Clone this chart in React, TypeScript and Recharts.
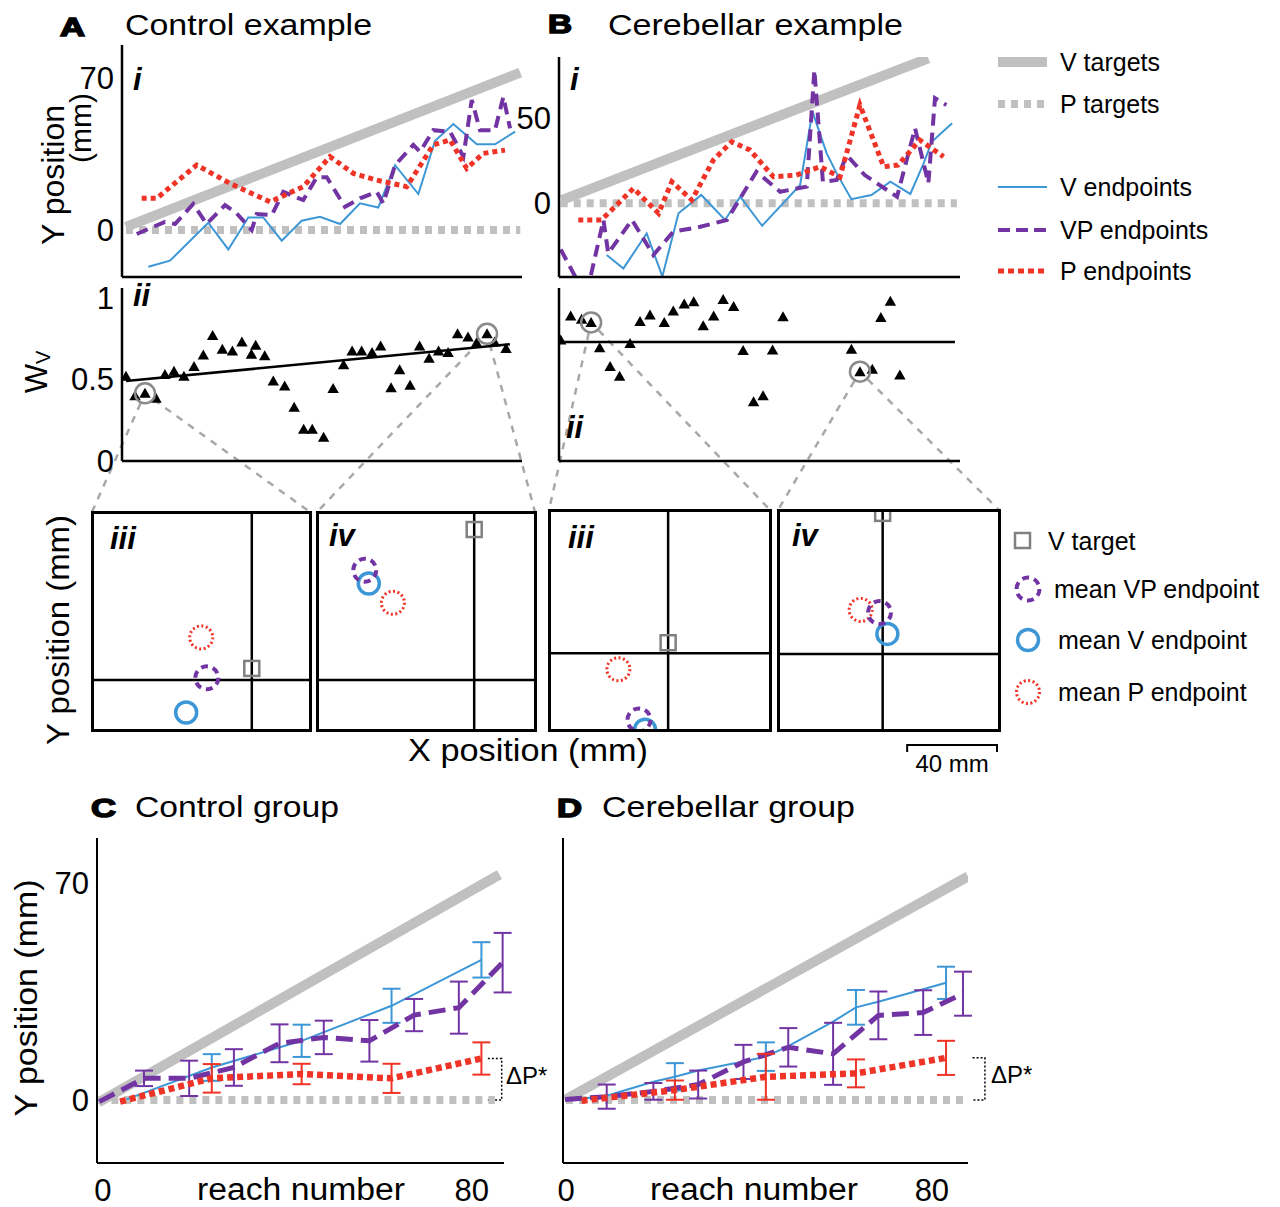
import React from 'react';
import { ComposedChart, Line, Scatter, XAxis, YAxis, ErrorBar, ReferenceLine } from 'recharts';

const FONT = '"Liberation Sans", Arial, Helvetica, sans-serif';
const GRAY = '#c0c0c0';
const BLUE = '#3d97d6';
const PURPLE = '#7334a3';
const RED = '#ef3326';

// ---------- A i: control example, Y endpoint (mm) by reach index
const aTargetX = [0, 41.5];
const aVTargetY = [1.5, 72.5];
const aPTargetY = [0, 0];
const aVX = [2.35, 4.63, 8.66, 10.77, 12.87, 14.45, 16.39, 18.49, 20.42, 22.53, 24.63, 26.56, 28.32, 30.77, 32.53, 34.45, 36.92, 38.84, 40.95];
const aVY = [-16.9, -14.1, 3.4, -8.9, 5.8, 5.8, -4.9, 4.3, 6.1, 2.8, 12.3, 10.4, 29.9, 16.6, 41.1, 48.8, 39.5, 39.5, 45.3];
const aVPX = [1.13, 4.1, 5.16, 7.08, 8.49, 10.42, 11.65, 13.23, 13.76, 15.34, 16.56, 18.66, 20.07, 21.13, 23.05, 24.63, 26.39, 27.08, 28.32, 30.24, 30.95, 32.35, 34.11, 35.51, 36.39, 37.26, 38.84, 39.72, 40.42];
const aVPY = [-1.8, 3.8, 2.8, 12, 2.8, 11.5, 7.7, 0, 7.4, 6.9, 17.6, 13.8, 24.3, 24.3, 10.7, 14.6, 17.6, 12.3, 29.9, 39.2, 36, 46, 45.3, 33.8, 59.9, 46, 46, 61.4, 46.8];
const aPX = [1.65, 3.23, 7.44, 10.95, 15.16, 18.66, 21.47, 23.93, 26.39, 29.55, 32.35, 34.11, 35.86, 37.61, 39.89];
const aPY = [14.6, 14.6, 29.9, 21.5, 13, 20, 33.8, 26.1, 23, 20, 39.2, 41.5, 28.4, 35.3, 36.8];

// ---------- A ii: visual weight per VP reach
const aTriX = [0, 0.95, 2.0, 3.16, 4.1, 5.05, 6.1, 7.16, 8.14, 9.12, 10.14, 11.2, 12.2, 13.2, 13.65, 14.6, 15.5, 16.7, 17.7, 18.7, 19.6, 20.8, 21.8, 22.9, 23.8, 24.8, 25.9, 26.8, 27.9, 28.8, 29.9, 30.9, 31.9, 32.9, 33.9, 34.9, 36, 36.9, 38, 38.8, 40];
const aTriW = [0.52, 0.4, 0.415, 0.385, 0.53, 0.55, 0.52, 0.58, 0.65, 0.77, 0.685, 0.675, 0.73, 0.655, 0.71, 0.645, 0.49, 0.46, 0.33, 0.195, 0.195, 0.145, 0.445, 0.59, 0.675, 0.675, 0.665, 0.705, 0.45, 0.56, 0.465, 0.705, 0.63, 0.675, 0.665, 0.78, 0.76, 0.725, 0.78, 0.73, 0.69];
const aFitX = [0, 40.4];
const aFitW = [0.49, 0.716];
const aRingIdx = [2, 38];

// ---------- B i: cerebellar example
const bVTargetX = [0.1, 38.7];
const bVTargetY = [1.9, 85.3];
const bPTargetX = [0, 41.7];
const bPTargetY = [0, 0];
const bVX = [4.84, 6.6, 9.05, 10.7, 12.4, 14.8, 17.3, 18.9, 21.2, 25.2, 26.5, 28, 29.05, 30.6, 32.7, 34.7, 36.8, 38.2, 39.05, 41.2];
const bVY = [-30.4, -38.3, -17.7, -43, -5.9, 4.9, -9.8, 3.9, -13.2, 10.8, 53.9, 29.4, 17.6, 2.4, 4.9, 12.7, 5.5, 23.5, 36.2, 47.1];
const bVPX = [0, 2.66, 4.5, 5.0, 7.5, 9.75, 11.85, 14.7, 17.5, 20.6, 23.1, 25.9, 26.7, 27.6, 29.05, 30.1, 32, 35.4, 37.3, 38.7, 39.4, 40.6];
const bVPY = [-27.1, -55, -9.8, -29.4, -9.8, -30.4, -16.7, -13.8, -9.8, 18.6, 6.8, 9.8, 78.4, 12.7, 13.7, 28.4, 16.6, 3.9, 44.1, 11.8, 61.8, 57.8];
const bPX = [1.85, 4.3, 7.65, 10.3, 11.7, 13.8, 16.07, 18, 19.9, 22.4, 24.8, 27.3, 29.4, 31.5, 34, 35.5, 37.8, 40.3];
const bPY = [-9.8, -9.8, 8.8, -5.9, 12.7, 1.9, 25.5, 36.2, 31.4, 15.6, 16.6, 21.5, 15.6, 57.8, 21.5, 22.5, 37.2, 27.4];

// ---------- B ii
const bTriX = [0, 1.05, 2.2, 3.2, 4.1, 5.2, 6.2, 7.3, 8.35, 9.4, 10.9, 11.85, 13, 14, 15, 16.1, 17.1, 18.2, 19.2, 20.3, 21.3, 22.3, 23.4, 30.6, 31.5, 32.8, 33.7, 34.7, 35.7];
const bTriW = [0.742, 0.89, 0.87, 0.85, 0.695, 0.58, 0.52, 0.72, 0.855, 0.895, 0.85, 0.92, 0.963, 0.977, 0.83, 0.89, 0.99, 0.947, 0.677, 0.364, 0.4, 0.68, 0.885, 0.685, 0.548, 0.563, 0.88, 0.98, 0.527];
const bFitX = [0, 41.5];
const bFitW = [0.73, 0.73];
const bRingIdx = [3, 24];

// ---------- iii / iv insets (A iii, A iv, B iii, B iv): X relative to target, Y in mm
const insetTargetX = [0, 0, 0, 0];
const insetTargetY = [5.2, 67, 4.7, 62.5];
const insetVPX = [-20, -48.6, -13, -1.4];
const insetVPY = [1, 48.9, -29.6, 18.4];
const insetVX = [-29.2, -46.8, -10.3, 2.1];
const insetVY = [-14.4, 43, -34, 8.9];
const insetPX = [-22.5, -36.1, -22.2, -9.8];
const insetPY = [19, 34.4, -7.1, 19.6];

// ---------- C: control group means
const cVTargetX = [-1, 86];
const cVTargetY = [-0.8, 72.7];
const cPTargetX = [-1, 85];
const cPTargetY = [0, 0];
const cVX = [5.1, 23.6, 43.1, 62.6, 82.1];
const cVY = [0.2, 10.5, 19.1, 30.4, 45.2];
const cVE = [null, 4.3, 5.2, 5.5, 5.7];
const cVPX = [-0.8, 8.9, 18.7, 28.4, 38.3, 47.9, 57.8, 67.5, 77.2, 86.7];
const cVPY = [-0.5, 7.0, 7.0, 10.5, 18.3, 20.2, 19.1, 27.4, 29.8, 44.3];
const cVPE = [null, 2.5, 5.7, 5.9, 6.1, 5.4, 6.7, 5.2, 8.4, 9.6];
const cPX = [3.7, 23.6, 43.1, 62.6, 82.1];
const cPY = [-0.5, 7.0, 8.4, 7.0, 13.4];
const cPE = [null, 4.6, 3.3, 4.7, 5.2];

// ---------- D: cerebellar group means
const dVTargetX = [-0.3, 87.9];
const dVTargetY = [0, 72.1];
const dPTargetX = [0, 87.9];
const dPTargetY = [0, 0];
const dVX = [3.4, 8.9, 19.1, 23.8, 28.9, 38.8, 43.7, 48.6, 58.4, 63.4, 68.3, 78.1, 83.1];
const dVY = [0.4, 1.4, 5.9, 7.5, 9.5, 12.4, 14, 17.4, 25.3, 29.9, 31.7, 35.7, 37.8];
const dVE = [null, null, null, 4.4, null, null, 4.6, null, null, 5.6, null, null, 5.2];
const dVPX = [-0.2, 8.9, 19.1, 28.9, 38.8, 48.6, 58.4, 68.3, 78.1, 86.8];
const dVPY = [0.2, 1.1, 2.8, 5.0, 12.3, 17.0, 14.9, 27.3, 28.2, 34.3];
const dVPE = [null, 3.9, 2.7, 4.5, 5.5, 6.2, 10, 7.7, 7.2, 7.1];
const dPX = [3.4, 23.8, 43.7, 63.4, 83.1];
const dPY = [-0.2, 3.2, 7.5, 8.6, 13.6];
const dPE = [null, 3.1, 7.4, 4.5, 5.5];

const zip = (xs: number[], ys: number[], es?: (number | null)[]) =>
  xs.map((x, k) => ({ x, y: ys[k], e: es ? es[k] : null }));

type Frame = { left: number; top: number; width: number; height: number; xd: [number, number]; yd: [number, number] };

// page placement of each plot area
const FA1: Frame = { left: 122, top: 45, width: 400, height: 232, xd: [-0.42, 41.68], yd: [-21.6, 85.2] };
const FA2: Frame = { left: 122, top: 288, width: 400, height: 173, xd: [-0.42, 41.68], yd: [0, 1.061] };
const FB1: Frame = { left: 559, top: 57, width: 401, height: 220, xd: [-0.18, 42.03], yd: [-43.35, 86.06] };
const FB2: Frame = { left: 559, top: 288, width: 401, height: 173, xd: [-0.18, 42.03], yd: [0, 1.061] };
const FC: Frame = { left: 97, top: 838, width: 407, height: 325, xd: [-1.3, 87], yd: [-20.3, 84.5] };
const FD: Frame = { left: 563, top: 838, width: 405, height: 325, xd: [-0.66, 87.9], yd: [-20.3, 84.5] };
const INSETS: Frame[] = [
  { left: 92, top: 512, width: 218, height: 218, xd: [-71.1, 25.9], yd: [-22.2, 74.8] },
  { left: 317, top: 512, width: 218, height: 218, xd: [-69.8, 27], yd: [-22.2, 74.8] },
  { left: 549, top: 510, width: 221, height: 220, xd: [-53.2, 45.5], yd: [-34.1, 63.7] },
  { left: 778, top: 510, width: 221, height: 220, xd: [-46.6, 51.8], yd: [-33.8, 64] },
];

const sx = (f: Frame, v: number) => f.left + ((v - f.xd[0]) / (f.xd[1] - f.xd[0])) * f.width;
const sy = (f: Frame, v: number) => f.top + ((f.yd[1] - v) / (f.yd[1] - f.yd[0])) * f.height;

const M = 22;
const tickFont = { fontSize: 31, fill: '#000', fontFamily: FONT };

function Plot({ f, yw = 1, xh = 1, yTicks, xTicks, axisWidth = 2.5, children }: any) {
  const axisLine = { stroke: '#000', strokeWidth: axisWidth };
  return (
    <div style={{ position: 'absolute', left: f.left - yw - M, top: f.top - M }}>
      <ComposedChart
        width={f.width + yw + 2 * M}
        height={f.height + xh + 2 * M}
        margin={{ top: M, right: M, bottom: M, left: M }}
      >
        <XAxis
          type="number"
          dataKey="x"
          domain={f.xd}
          allowDataOverflow
          height={xh}
          ticks={xTicks}
          tick={xTicks ? tickFont : false}
          tickLine={false}
          tickMargin={10}
          interval={0}
          axisLine={axisLine}
        />
        <YAxis
          type="number"
          dataKey="y"
          domain={f.yd}
          allowDataOverflow
          width={yw}
          ticks={yTicks}
          tick={yTicks ? tickFont : false}
          tickLine={false}
          interval={0}
          axisLine={axisLine}
        />
        {children}
      </ComposedChart>
    </div>
  );
}

const Tri = (p: any) => (
  <polygon
    points={`${p.cx},${p.cy - 5.5} ${p.cx - 5.7},${p.cy + 4.5} ${p.cx + 5.7},${p.cy + 4.5}`}
    fill="#000"
  />
);
const Ring = (p: any) => <circle cx={p.cx} cy={p.cy} r={10} fill="none" stroke="#8a8a8a" strokeWidth={2.5} />;
const SquareMark = (p: any) => (
  <rect x={p.cx - 7.5} y={p.cy - 7.5} width={15} height={15} fill="none" stroke="#808080" strokeWidth={2.5} />
);
const VPMark = (p: any) => (
  <circle cx={p.cx} cy={p.cy} r={11.5} fill="none" stroke={PURPLE} strokeWidth={4} strokeDasharray="7 5" />
);
const VMark = (p: any) => <circle cx={p.cx} cy={p.cy} r={10.5} fill="none" stroke={BLUE} strokeWidth={3.5} />;
const PMark = (p: any) => (
  <circle cx={p.cx} cy={p.cy} r={11.5} fill="none" stroke={RED} strokeWidth={3} strokeDasharray="2 2.5" />
);

function Inset({ k }: { k: number }) {
  const f = INSETS[k];
  return (
    <>
      <div style={{ position: 'absolute', left: f.left, top: f.top }}>
        <ComposedChart width={f.width} height={f.height} margin={{ top: 0, right: 0, bottom: 0, left: 0 }}>
          <XAxis type="number" dataKey="x" domain={f.xd} allowDataOverflow hide />
          <YAxis type="number" dataKey="y" domain={f.yd} allowDataOverflow hide />
          <ReferenceLine x={0} stroke="#000" strokeWidth={2.5} />
          <ReferenceLine y={0} stroke="#000" strokeWidth={2.5} />
          <Scatter data={[{ x: insetTargetX[k], y: insetTargetY[k] }]} shape={SquareMark} isAnimationActive={false} />
          <Scatter data={[{ x: insetPX[k], y: insetPY[k] }]} shape={PMark} isAnimationActive={false} />
          <Scatter data={[{ x: insetVX[k], y: insetVY[k] }]} shape={VMark} isAnimationActive={false} />
          <Scatter data={[{ x: insetVPX[k], y: insetVPY[k] }]} shape={VPMark} isAnimationActive={false} />
        </ComposedChart>
      </div>
      <div
        style={{
          position: 'absolute',
          left: f.left - 1.5,
          top: f.top - 1.5,
          width: f.width + 3,
          height: f.height + 3,
          border: '3px solid #000',
          boxSizing: 'border-box',
        }}
      />
    </>
  );
}

function Overlay() {
  const rings = [
    { f: FA2, x: aTriX[aRingIdx[0]], y: aTriW[aRingIdx[0]], to: INSETS[0] },
    { f: FA2, x: aTriX[aRingIdx[1]], y: aTriW[aRingIdx[1]], to: INSETS[1] },
    { f: FB2, x: bTriX[bRingIdx[0]], y: bTriW[bRingIdx[0]], to: INSETS[2] },
    { f: FB2, x: bTriX[bRingIdx[1]], y: bTriW[bRingIdx[1]], to: INSETS[3] },
  ];
  const connectors: any[] = [];
  rings.forEach((r, n) => {
    const cx = sx(r.f, r.x);
    const cy = sy(r.f, r.y);
    [r.to.left, r.to.left + r.to.width].forEach((tx, m) => {
      const ty = r.to.top;
      const len = Math.hypot(tx - cx, ty - cy);
      const x0 = cx + ((tx - cx) / len) * 11;
      const y0 = cy + ((ty - cy) / len) * 11;
      connectors.push(
        <line key={`${n}-${m}`} x1={x0} y1={y0} x2={tx} y2={ty} stroke="#a8a8a8" strokeWidth={2.5} strokeDasharray="7 7" />
      );
    });
  });

  const bracket = (f: Frame, x1: number, x2: number, top: number) => (
    <polyline
      points={`${sx(f, x1)},${sy(f, top)} ${sx(f, x2)},${sy(f, top)} ${sx(f, x2)},${sy(f, 0)} ${sx(f, x1)},${sy(f, 0)}`}
      fill="none"
      stroke="#000"
      strokeWidth={1.5}
      strokeDasharray="2 2"
    />
  );

  const sb = INSETS[3];
  const mmPx = sb.width / (sb.xd[1] - sb.xd[0]);
  const sbRight = sb.left + sb.width - 2;
  const sbLeft = sbRight - 40 * mmPx;

  const legend1 = [
    { t: 'V targets', y: 62, c: GRAY, w: 10, d: undefined },
    { t: 'P targets', y: 104, c: GRAY, w: 8, d: '7 6' },
    { t: 'V endpoints', y: 187, c: BLUE, w: 2, d: undefined },
    { t: 'VP endpoints', y: 230, c: PURPLE, w: 4, d: '12 6' },
    { t: 'P endpoints', y: 271, c: RED, w: 5, d: '6 4' },
  ];

  const bold = { fontWeight: 700, stroke: '#000', strokeWidth: 1.5 };
  const roman = { fontStyle: 'italic', fontWeight: 700, fontSize: 31 };

  return (
    <svg width={1280} height={1207} style={{ position: 'absolute', left: 0, top: 0 }} fontFamily={FONT} fill="#000">
      {connectors}

      {/* panel letters and titles */}
      <text x={60} y={36} fontSize={26} textLength={25} lengthAdjust="spacingAndGlyphs" {...bold}>A</text>
      <text x={125} y={35} fontSize={29} textLength={247} lengthAdjust="spacingAndGlyphs">Control example</text>
      <text x={548} y={33} fontSize={26} textLength={24} lengthAdjust="spacingAndGlyphs" {...bold}>B</text>
      <text x={608} y={35} fontSize={29} textLength={295} lengthAdjust="spacingAndGlyphs">Cerebellar example</text>
      <text x={91} y={817} fontSize={26} textLength={25} lengthAdjust="spacingAndGlyphs" {...bold}>C</text>
      <text x={135} y={817} fontSize={29} textLength={204} lengthAdjust="spacingAndGlyphs">Control group</text>
      <text x={557} y={817} fontSize={26} textLength={25} lengthAdjust="spacingAndGlyphs" {...bold}>D</text>
      <text x={602} y={817} fontSize={29} textLength={253} lengthAdjust="spacingAndGlyphs">Cerebellar group</text>

      {/* sub-panel numerals */}
      <text x={133} y={90} {...roman}>i</text>
      <text x={570} y={90} {...roman}>i</text>
      <text x={133} y={306} {...roman}>ii</text>
      <text x={566} y={438} {...roman}>ii</text>
      <text x={110} y={549} {...roman}>iii</text>
      <text x={329} y={546} {...roman}>iv</text>
      <text x={568} y={548} {...roman}>iii</text>
      <text x={792} y={546} {...roman}>iv</text>

      {/* axis titles */}
      <text x={53} y={175} fontSize={32} textAnchor="middle" dominantBaseline="central" transform="rotate(-90 53 175)">Y position</text>
      <text x={80} y={128} fontSize={30} textAnchor="middle" dominantBaseline="central" transform="rotate(-90 80 128)">(mm)</text>
      <text x={36} y={372} fontSize={31} textAnchor="middle" dominantBaseline="central" transform="rotate(-90 36 372)">
        W<tspan fontSize={20} dy={7}>V</tspan>
      </text>
      <text x={58} y={630} fontSize={31} textAnchor="middle" dominantBaseline="central" textLength={230} lengthAdjust="spacingAndGlyphs" transform="rotate(-90 58 630)">Y position (mm)</text>
      <text x={528} y={761} fontSize={31} textAnchor="middle" textLength={240} lengthAdjust="spacingAndGlyphs">X position (mm)</text>
      <text x={26} y={998} fontSize={31} textAnchor="middle" dominantBaseline="central" textLength={237} lengthAdjust="spacingAndGlyphs" transform="rotate(-90 26 998)">Y position (mm)</text>
      <text x={301} y={1200} fontSize={31} textAnchor="middle" textLength={208} lengthAdjust="spacingAndGlyphs">reach number</text>
      <text x={754} y={1200} fontSize={31} textAnchor="middle" textLength={208} lengthAdjust="spacingAndGlyphs">reach number</text>

      {/* ΔP brackets */}
      {bracket(FC, 83.5, 86.5, cPY[cPY.length - 1])}
      {bracket(FD, 88.9, 91.6, dPY[dPY.length - 1])}
      <text x={506} y={1084} fontSize={24}>ΔP*</text>
      <text x={991} y={1083} fontSize={24}>ΔP*</text>

      {/* 40 mm scale bar */}
      <polyline points={`${sbLeft},752 ${sbLeft},745 ${sbRight},745 ${sbRight},752`} fill="none" stroke="#000" strokeWidth={2} />
      <text x={(sbLeft + sbRight) / 2} y={772} fontSize={24} textAnchor="middle">40 mm</text>

      {/* legend: series */}
      {legend1.map((l) => (
        <g key={l.t}>
          <line x1={998} x2={1047} y1={l.y} y2={l.y} stroke={l.c} strokeWidth={l.w} strokeDasharray={l.d} />
          <text x={1060} y={l.y + 9} fontSize={25}>{l.t}</text>
        </g>
      ))}

      {/* legend: inset markers */}
      <rect x={1015} y={533} width={15} height={15} fill="none" stroke="#808080" strokeWidth={2.5} />
      <text x={1048} y={550} fontSize={25}>V target</text>
      <circle cx={1028} cy={589} r={11.5} fill="none" stroke={PURPLE} strokeWidth={4} strokeDasharray="7 5" />
      <text x={1054} y={598} fontSize={25}>mean VP endpoint</text>
      <circle cx={1028} cy={640} r={10.5} fill="none" stroke={BLUE} strokeWidth={3.5} />
      <text x={1058} y={649} fontSize={25}>mean V endpoint</text>
      <circle cx={1028} cy={692} r={11.5} fill="none" stroke={RED} strokeWidth={3} strokeDasharray="2 2.5" />
      <text x={1058} y={701} fontSize={25}>mean P endpoint</text>
    </svg>
  );
}

const lineProps = { type: 'linear' as const, dataKey: 'y', dot: false, activeDot: false, isAnimationActive: false };
const PT = { stroke: GRAY, strokeWidth: 8, strokeDasharray: '7 6' };

export default function App() {
  const aTri = zip(aTriX, aTriW);
  const bTri = zip(bTriX, bTriW);
  return (
    <div style={{ position: 'absolute', left: 0, top: 0, width: 1280, height: 1207, background: '#fff', overflow: 'hidden' }}>
      <Overlay />

      {/* A i */}
      <Plot f={FA1} yw={60} yTicks={[0, 70]}>
        <Line {...lineProps} data={zip(aTargetX, aVTargetY)} stroke={GRAY} strokeWidth={10} />
        <Line {...lineProps} data={zip(aTargetX, aPTargetY)} {...PT} />
        <Line {...lineProps} data={zip(aVX, aVY)} stroke={BLUE} strokeWidth={2} />
        <Line {...lineProps} data={zip(aVPX, aVPY)} stroke={PURPLE} strokeWidth={4} strokeDasharray="12 7" />
        <Line {...lineProps} data={zip(aPX, aPY)} stroke={RED} strokeWidth={5} strokeDasharray="5 4" />
      </Plot>

      {/* A ii */}
      <Plot f={FA2} yw={60} yTicks={[0, 0.5, 1]}>
        <Line {...lineProps} data={zip(aFitX, aFitW)} stroke="#000" strokeWidth={2.5} />
        <Scatter data={aTri} shape={Tri} isAnimationActive={false} />
        <Scatter data={aRingIdx.map((k) => aTri[k])} shape={Ring} isAnimationActive={false} />
      </Plot>

      {/* B i */}
      <Plot f={FB1} yw={60} yTicks={[0, 50]}>
        <Line {...lineProps} data={zip(bVTargetX, bVTargetY)} stroke={GRAY} strokeWidth={10} />
        <Line {...lineProps} data={zip(bPTargetX, bPTargetY)} {...PT} />
        <Line {...lineProps} data={zip(bVX, bVY)} stroke={BLUE} strokeWidth={2} />
        <Line {...lineProps} data={zip(bVPX, bVPY)} stroke={PURPLE} strokeWidth={4} strokeDasharray="12 7" />
        <Line {...lineProps} data={zip(bPX, bPY)} stroke={RED} strokeWidth={5} strokeDasharray="5 4" />
      </Plot>

      {/* B ii */}
      <Plot f={FB2}>
        <Line {...lineProps} data={zip(bFitX, bFitW)} stroke="#000" strokeWidth={2.5} />
        <Scatter data={bTri} shape={Tri} isAnimationActive={false} />
        <Scatter data={bRingIdx.map((k) => bTri[k])} shape={Ring} isAnimationActive={false} />
      </Plot>

      {/* iii / iv */}
      {INSETS.map((_, k) => (
        <Inset key={k} k={k} />
      ))}

      {/* C */}
      <Plot f={FC} yw={60} xh={45} yTicks={[0, 70]} xTicks={[0, 80]} axisWidth={2}>
        <Line {...lineProps} data={zip(cVTargetX, cVTargetY)} stroke={GRAY} strokeWidth={10} />
        <Line {...lineProps} data={zip(cPTargetX, cPTargetY)} {...PT} />
        <Line {...lineProps} data={zip(cVX, cVY, cVE)} stroke={BLUE} strokeWidth={2}>
          <ErrorBar dataKey="e" direction="y" width={9} stroke={BLUE} strokeWidth={2} />
        </Line>
        <Line {...lineProps} data={zip(cVPX, cVPY, cVPE)} stroke={PURPLE} strokeWidth={5} strokeDasharray="17 8">
          <ErrorBar dataKey="e" direction="y" width={9} stroke={PURPLE} strokeWidth={2} />
        </Line>
        <Line {...lineProps} data={zip(cPX, cPY, cPE)} stroke={RED} strokeWidth={6.5} strokeDasharray="6 4">
          <ErrorBar dataKey="e" direction="y" width={9} stroke={RED} strokeWidth={2} />
        </Line>
      </Plot>

      {/* D */}
      <Plot f={FD} xh={45} xTicks={[0, 80]} axisWidth={2}>
        <Line {...lineProps} data={zip(dVTargetX, dVTargetY)} stroke={GRAY} strokeWidth={10} />
        <Line {...lineProps} data={zip(dPTargetX, dPTargetY)} {...PT} />
        <Line {...lineProps} data={zip(dVX, dVY, dVE)} stroke={BLUE} strokeWidth={2}>
          <ErrorBar dataKey="e" direction="y" width={9} stroke={BLUE} strokeWidth={2} />
        </Line>
        <Line {...lineProps} data={zip(dVPX, dVPY, dVPE)} stroke={PURPLE} strokeWidth={5} strokeDasharray="17 8">
          <ErrorBar dataKey="e" direction="y" width={9} stroke={PURPLE} strokeWidth={2} />
        </Line>
        <Line {...lineProps} data={zip(dPX, dPY, dPE)} stroke={RED} strokeWidth={6.5} strokeDasharray="6 4">
          <ErrorBar dataKey="e" direction="y" width={9} stroke={RED} strokeWidth={2} />
        </Line>
      </Plot>
    </div>
  );
}
